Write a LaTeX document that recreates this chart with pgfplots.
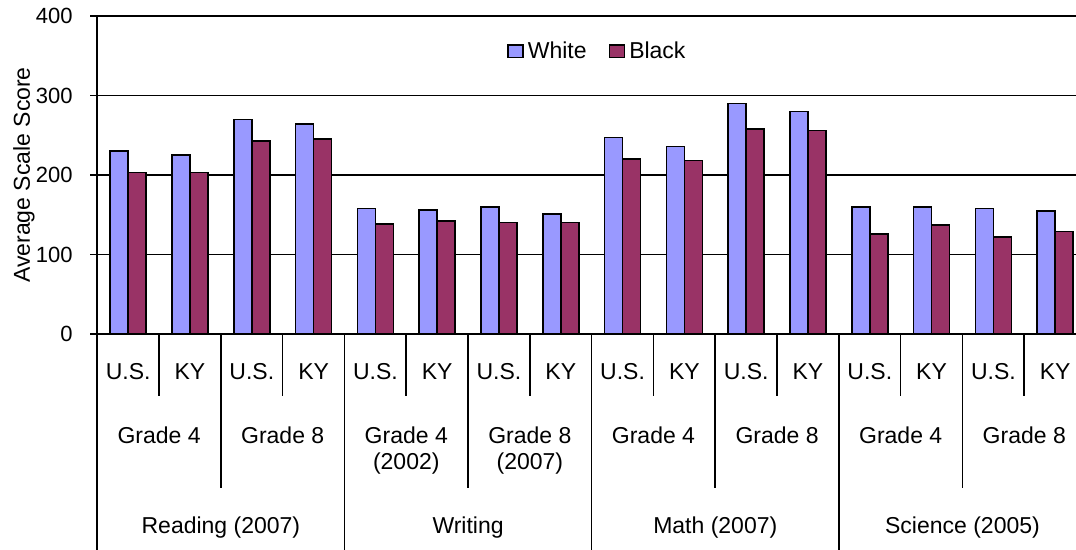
\documentclass[border=0pt]{standalone}
\usepackage{fontspec}
\setmainfont{Liberation Sans}
\usepackage{pgfplots}
\pgfplotsset{compat=1.18}
\definecolor{cw}{HTML}{9999FF}
\definecolor{cb}{HTML}{993366}
\newcommand{\sep}[2]{\draw[line width=0.8pt] (axis cs:#1,0) -- ([yshift=-#2]axis cs:#1,0);}
\begin{document}
\begin{tikzpicture}[font=\fontsize{11.5}{13.5}\selectfont]
\path[use as bounding box] (-48.65pt,-108pt) rectangle (489.35pt,167pt);
\begin{axis}[
 at={(0,0)}, anchor=south west, scale only axis,
 width=489.35pt, height=159pt,
 xmin=-0.5, xmax=15.337, ymin=0, ymax=400,
 axis lines*=left, axis line style={line width=1pt},
 xtick=\empty, ytick={0,100,200,300,400},
 tick align=outside, major tick length=3.5pt,
 tick style={black, line width=0.8pt},
 ymajorgrids, grid style={black, line width=0.9pt},
 /pgf/number format/assume math mode=true,
 yticklabel style={font=\fontsize{11}{13}\selectfont, inner sep=0pt, xshift=-8.6pt},
 ybar=0pt, bar width=9pt,
 clip=false,
 legend style={draw=none, fill=none, at={(0.512,0.887)}, anchor=center,
   font=\fontsize{11.5}{13.5}\selectfont, inner sep=0pt,
   /tikz/every even column/.append style={column sep=9pt}},
 legend columns=2,
 legend image code/.code={\draw[#1, draw=black, line width=0.8pt] (0pt,-2.8pt) rectangle (7.5pt,3.4pt);},
]
\addplot[fill=cw, draw=black, line width=0.8pt] coordinates {
(0,230) (1,225) (2,270) (3,264) (4,158) (5,156) (6,160) (7,151)
(8,247) (9,236) (10,290) (11,280) (12,160) (13,160) (14,158) (15,155)};
\addplot[fill=cb, draw=black, line width=0.8pt] coordinates {
(0,203) (1,203) (2,243) (3,245) (4,138) (5,142) (6,140) (7,140)
(8,220) (9,218) (10,258) (11,256) (12,126) (13,137) (14,122) (15,129)};
\legend{White, Black}
% separators
\draw[line width=1pt] (axis cs:-0.5,0) -- ([yshift=-108pt]axis cs:-0.5,0);
\sep{0.5}{31pt}\sep{2.5}{31pt}\sep{4.5}{31pt}\sep{6.5}{31pt}
\sep{8.5}{31pt}\sep{10.5}{31pt}\sep{12.5}{31pt}\sep{14.5}{31pt}
\sep{1.5}{77pt}\sep{5.5}{77pt}\sep{9.5}{77pt}\sep{13.5}{77pt}
\sep{3.5}{108pt}\sep{7.5}{108pt}\sep{11.5}{108pt}
% row 1
\node[anchor=base, yshift=-23pt, inner sep=0pt] at (axis cs:0,0) {U.S.};
\node[anchor=base, yshift=-23pt, inner sep=0pt] at (axis cs:1,0) {KY};
\node[anchor=base, yshift=-23pt, inner sep=0pt] at (axis cs:2,0) {U.S.};
\node[anchor=base, yshift=-23pt, inner sep=0pt] at (axis cs:3,0) {KY};
\node[anchor=base, yshift=-23pt, inner sep=0pt] at (axis cs:4,0) {U.S.};
\node[anchor=base, yshift=-23pt, inner sep=0pt] at (axis cs:5,0) {KY};
\node[anchor=base, yshift=-23pt, inner sep=0pt] at (axis cs:6,0) {U.S.};
\node[anchor=base, yshift=-23pt, inner sep=0pt] at (axis cs:7,0) {KY};
\node[anchor=base, yshift=-23pt, inner sep=0pt] at (axis cs:8,0) {U.S.};
\node[anchor=base, yshift=-23pt, inner sep=0pt] at (axis cs:9,0) {KY};
\node[anchor=base, yshift=-23pt, inner sep=0pt] at (axis cs:10,0) {U.S.};
\node[anchor=base, yshift=-23pt, inner sep=0pt] at (axis cs:11,0) {KY};
\node[anchor=base, yshift=-23pt, inner sep=0pt] at (axis cs:12,0) {U.S.};
\node[anchor=base, yshift=-23pt, inner sep=0pt] at (axis cs:13,0) {KY};
\node[anchor=base, yshift=-23pt, inner sep=0pt] at (axis cs:14,0) {U.S.};
\node[anchor=base, yshift=-23pt, inner sep=0pt] at (axis cs:15,0) {KY};
% row 2
\node[anchor=base, yshift=-54.6pt, inner sep=0pt] at (axis cs:0.5,0) {Grade 4};
\node[anchor=base, yshift=-54.6pt, inner sep=0pt] at (axis cs:2.5,0) {Grade 8};
\node[anchor=base, yshift=-54.6pt, inner sep=0pt] at (axis cs:4.5,0) {Grade 4};
\node[anchor=base, yshift=-68pt, inner sep=0pt] at (axis cs:4.5,0) {(2002)};
\node[anchor=base, yshift=-54.6pt, inner sep=0pt] at (axis cs:6.5,0) {Grade 8};
\node[anchor=base, yshift=-68pt, inner sep=0pt] at (axis cs:6.5,0) {(2007)};
\node[anchor=base, yshift=-54.6pt, inner sep=0pt] at (axis cs:8.5,0) {Grade 4};
\node[anchor=base, yshift=-54.6pt, inner sep=0pt] at (axis cs:10.5,0) {Grade 8};
\node[anchor=base, yshift=-54.6pt, inner sep=0pt] at (axis cs:12.5,0) {Grade 4};
\node[anchor=base, yshift=-54.6pt, inner sep=0pt] at (axis cs:14.5,0) {Grade 8};
% row 3
\node[anchor=base, yshift=-100pt, inner sep=0pt] at (axis cs:1.5,0) {Reading (2007)};
\node[anchor=base, yshift=-100pt, inner sep=0pt] at (axis cs:5.5,0) {Writing};
\node[anchor=base, yshift=-100pt, inner sep=0pt] at (axis cs:9.5,0) {Math (2007)};
\node[anchor=base, yshift=-100pt, inner sep=0pt] at (axis cs:13.5,0) {Science (2005)};
\end{axis}
\node[rotate=90, anchor=base, inner sep=0pt] at (-33.65pt,79.5pt) {Average Scale Score};
\end{tikzpicture}
\end{document}
